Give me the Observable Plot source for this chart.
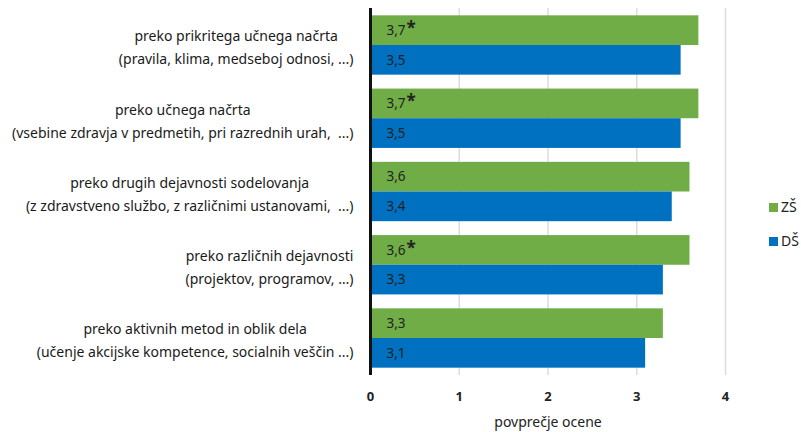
<!DOCTYPE html>
<html>
<head>
<meta charset="utf-8">
<script src="https://cdn.jsdelivr.net/npm/d3@7"></script>
<script src="https://cdn.jsdelivr.net/npm/@observablehq/plot@0.6"></script>
<style>
  html, body { margin: 0; padding: 0; background: #fff; }
  #wrap { position: relative; width: 801px; height: 432px; font-family: "Noto Sans", sans-serif; }
  .leg { position: absolute; left: 769px; font-size: 14px; line-height: 18px; color: #222; display: flex; align-items: center; }
  .leg span.sw { display: inline-block; width: 9px; height: 9px; margin-right: 3px; }
</style>
</head>
<body>
<div id="wrap"></div>
<script>
// ---- data ----
const catLine1 = [
  "preko prikritega učnega načrta",
  "preko učnega načrta",
  "preko drugih dejavnosti sodelovanja",
  "preko različnih dejavnosti",
  "preko aktivnih metod in oblik dela"
];
const catLine2 = [
  "(pravila, klima, medseboj odnosi, ...)",
  "(vsebine zdravja v predmetih, pri razrednih urah,\u00a0 ...)",
  "(z zdravstveno službo, z različnimi ustanovami,\u00a0 ...)",
  "(projektov, programov, …)",
  "(učenje akcijske kompetence, socialnih veščin ...)"
];
const seriesNames = ["ZŠ", "DŠ"];
const zsValues = [3.7, 3.7, 3.6, 3.6, 3.3];
const dsValues = [3.5, 3.5, 3.4, 3.3, 3.1];
const zsSignificant = [true, true, false, true, false];
const xTicks = [0, 1, 2, 3, 4];
const xLabel = "povprečje ocene";

// ---- layout / style ----
const W = 801, H = 432, mL = 370, mR = 76, mT = 8, mB = 57;
const padIn = 0.19, padOut = 0.1;
const green = "#70ad47", blue = "#0070c0";
const font = "Noto Sans";
const step = (H - mT - mB) / (catLine1.length - padIn + 2 * padOut);
const bw = step * (1 - padIn);

const rows = catLine1.map((c, i) => ({cat: c, zs: zsValues[i], ds: dsValues[i], sig: zsSignificant[i], l2: catLine2[i]}));
const fmt = v => v.toFixed(1).replace(".", ",");

const ctx = document.createElement("canvas").getContext("2d");
ctx.font = `14px "${font}"`;
const w2 = catLine2.map(s => ctx.measureText(s).width);

const catMarks = rows.map((r, i) => Plot.text([r], {
  y: "cat", frameAnchor: "left", text: d => d.cat + "\n" + d.l2,
  textAnchor: "middle", lineAnchor: "middle", lineHeight: 1.64,
  dx: -(17 + w2[i] / 2), fontSize: 14, fill: "#1a1a1a"
}));

const chart = Plot.plot({
  width: W, height: H,
  marginLeft: mL, marginRight: mR, marginTop: mT, marginBottom: mB,
  style: {fontFamily: font, background: "transparent"},
  x: {domain: [0, 4], ticks: xTicks, label: null},
  y: {domain: catLine1, paddingInner: padIn, paddingOuter: padOut, align: 0.5, round: false, axis: null},
  marks: [
    Plot.ruleX(xTicks.filter(t => t > 0), {stroke: "#dcdcdc", strokeWidth: 1.5}),
    Plot.barX(rows, {x: "zs", y: "cat", fill: green, insetBottom: bw / 2}),
    Plot.barX(rows, {x: "ds", y: "cat", fill: blue, insetTop: bw / 2}),
    Plot.ruleX([0], {stroke: "#111", strokeWidth: 3}),
    Plot.text(rows, {x: 0, y: "cat", text: d => fmt(d.zs), dx: 16, dy: -bw / 4, textAnchor: "start", fontSize: 13.5, fill: "#222"}),
    Plot.text(rows, {x: 0, y: "cat", text: d => fmt(d.ds), dx: 16, dy: bw / 4, textAnchor: "start", fontSize: 13.5, fill: "#222"}),
    Plot.text(rows.filter(d => d.sig), {x: 0, y: "cat", text: () => "*", dx: 36, dy: -bw / 4 - 2, textAnchor: "start", fontSize: 17, fontWeight: "bold", fill: "#222"}),
    ...catMarks,
    Plot.axisX({ticks: xTicks, tickSize: 0, tickPadding: 16, fontSize: 13, fontWeight: "bold", fill: "#222", label: null, tickFormat: d => String(d)}),
    Plot.text([xLabel], {frameAnchor: "bottom", dy: 51, fontSize: 14, fill: "#222"})
  ]
});

const wrap = document.getElementById("wrap");
wrap.appendChild(chart);
seriesNames.forEach((s, i) => {
  const el = document.createElement("div");
  el.className = "leg";
  el.style.top = (i === 0 ? 198 : 232) + "px";
  el.innerHTML = `<span class="sw" style="background:${i === 0 ? green : blue}"></span>${s}`;
  wrap.appendChild(el);
});
</script>
</body>
</html>
